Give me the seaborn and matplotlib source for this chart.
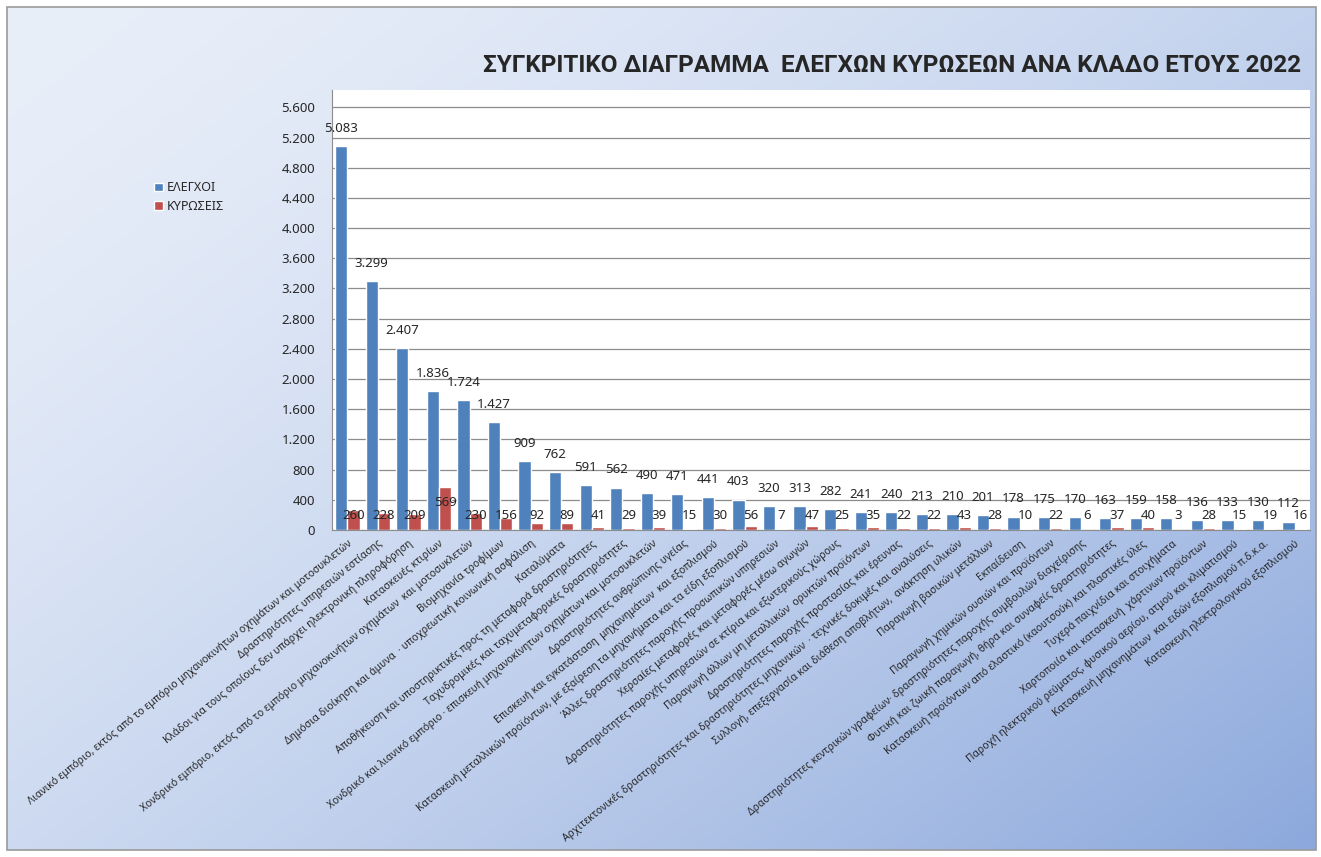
import numpy as np
import pandas as pd
import seaborn as sns
import matplotlib.pyplot as plt
from matplotlib.patches import Rectangle


# Data
categories = [
    "Λιανικό εμπόριο, εκτός από το εμπόριο μηχανοκινήτων οχημάτων και μοτοσυκλετών",
    "Δραστηριότητες υπηρεσιών εστίασης",
    "Κλάδοι για τους οποίους δεν υπάρχει ηλεκτρονική πληροφόρηση",
    "Κατασκευές κτιρίων",
    "Χονδρικό εμπόριο, εκτός από το εμπόριο μηχανοκινήτων οχημάτων  και μοτοσυκλετών",
    "Βιομηχανία τροφίμων",
    "Δημόσια διοίκηση και άμυνα  · υποχρεωτική κοινωνική ασφάλιση",
    "Καταλύματα",
    "Αποθήκευση και υποστηρικτικές προς τη μεταφορά δραστηριότητες",
    "Ταχυδρομικές και ταχυμεταφορικές δραστηριότητες",
    "Χονδρικό και λιανικό εμπόριο · επισκευή μηχανοκίνητων οχημάτων και μοτοσυκλετών",
    "Δραστηριότητες ανθρώπινης υγείας",
    "Επισκευή και εγκατάσταση  μηχανημάτων  και εξοπλισμού",
    "Κατασκευή μεταλλικών προϊόντων, με εξαίρεση τα μηχανήματα και τα είδη εξοπλισμού",
    "Άλλες δραστηριότητες παροχής προσωπικών υπηρεσιών",
    "Χερσαίες μεταφορές και μεταφορές μέσω αγωγών",
    "Δραστηριότητες παροχής υπηρεσιών σε κτίρια και εξωτερικούς χώρους",
    "Παραγωγή άλλων μη μεταλλικών  ορυκτών προϊόντων",
    "Δραστηριότητες παροχής προστασίας και έρευνας",
    "Αρχιτεκτονικές δραστηριότητες και δραστηριότητες μηχανικών  · τεχνικές δοκιμές και αναλύσεις",
    "Συλλογή, επεξεργασία και διάθεση αποβλήτων,  ανάκτηση υλικών",
    "Παραγωγή βασικών μετάλλων",
    "Εκπαίδευση",
    "Παραγωγή χημικών ουσιών και προϊόντων",
    "Δραστηριότητες κεντρικών γραφείων· δραστηριότητες παροχής συμβουλών διαχείρισης",
    "Φυτική και ζωική παραγωγή, θήρα και συναφείς δραστηριότητες",
    "Κατασκευή προϊόντων από ελαστικό (καουτσούκ) και πλαστικές ύλες",
    "Τυχερά παιχνίδια και στοιχήματα",
    "Χαρτοποιία και κατασκευή  χάρτινων προϊόντων",
    "Παροχή ηλεκτρικού ρεύματος, φυσικού αερίου, ατμού και κλιματισμού",
    "Κατασκευή μηχανημάτων  και ειδών εξοπλισμού π.δ.κ.α.",
    "Κατασκευή ηλεκτρολογικού εξοπλισμού",
]

elegxoi = [5083, 3299, 2407, 1836, 1724, 1427, 909, 762, 591, 562, 490, 471, 441, 403,
           320, 313, 282, 241, 240, 213, 210, 201, 178, 175, 170, 163, 159, 158, 136,
           133, 130, 112]
kyroseis = [260, 228, 209, 569, 230, 156, 92, 89, 41, 29, 39, 15, 30, 56,
            7, 47, 25, 35, 22, 22, 43, 28, 10, 22, 6, 37, 40, 3, 28,
            15, 19, 16]

series_names = ["ΕΛΕΓΧΟΙ", "ΚΥΡΩΣΕΙΣ"]
title = "ΣΥΓΚΡΙΤΙΚΟ ΔΙΑΓΡΑΜΜΑ  ΕΛΕΓΧΩΝ ΚΥΡΩΣΕΩΝ ΑΝΑ ΚΛΑΔΟ ΕΤΟΥΣ 2022"
yticks = list(range(0, 5601, 400))

BLUE = "#4F81BD"
RED = "#C0504D"


def fmt(v):
    # greek thousands separator
    return f"{v:,}".replace(",", ".")


df = pd.DataFrame({
    "cat": categories * 2,
    "value": elegxoi + kyroseis,
    "series": [series_names[0]] * len(categories) + [series_names[1]] * len(categories),
})

sns.set_style("white")
plt.rcParams["font.family"] = ["Noto Sans", "DejaVu Sans"]

W, H = 1321, 857
fig = plt.figure(figsize=(W / 100, H / 100), dpi=100)

# gradient background inside the chart border
bg = fig.add_axes([7 / W, 7 / H, 1309 / W, 843 / H], zorder=-10)
gx, gy = np.meshgrid(np.linspace(0, 1, 300), np.linspace(0, 1, 200))
t = np.clip(0.55 * gx + 0.45 * gy, 0, 1)[..., None]
c0 = np.array([233, 239, 249]) / 255
c1 = np.array([140, 168, 220]) / 255
bg.imshow(c0 + (c1 - c0) * t ** 1.5, aspect="auto", interpolation="bilinear")
bg.set_axis_off()
fig.patches.append(Rectangle((7 / W, 7 / H), 1309 / W, 843 / H, transform=fig.transFigure,
                             fill=False, ec="#9a9a9a", lw=1.2))

ax = fig.add_axes([332 / W, 1 - 530 / H, (1310 - 332) / W, (530 - 90) / H])
sns.barplot(data=df, x="cat", y="value", hue="series", palette=[BLUE, RED],
            ax=ax, saturation=1, width=0.8, gap=0)
ax.set_facecolor("white")
ax.set_ylim(0, 5830)
ax.set_yticks(yticks)
ax.set_yticklabels([fmt(v) for v in yticks], fontsize=9.5)
ax.set_xlabel("")
ax.set_ylabel("")
ax.grid(axis="y", color="#8c8c8c", lw=0.9)
ax.set_axisbelow(True)
for s in ["top", "right"]:
    ax.spines[s].set_visible(False)
for s in ["left", "bottom"]:
    ax.spines[s].set_color("#8c8c8c")
ax.tick_params(axis="both", length=0)
ax.tick_params(axis="y", pad=12)
ax.set_xticks(range(len(categories)))
ax.set_xticklabels(categories, rotation=39, ha="right", va="top",
                   rotation_mode="anchor", fontsize=7.4)
ax.tick_params(axis="x", pad=6)

# value labels
blue_bars, red_bars = ax.containers[0], ax.containers[1]
ax.bar_label(blue_bars, labels=[fmt(v) for v in elegxoi], padding=8, fontsize=9.5)
for bar, v in zip(red_bars, kyroseis):
    ax.text(bar.get_x() + bar.get_width() / 2, max(v - 210, 190), fmt(v),
            ha="center", va="center", fontsize=9.5)

handles, labels = ax.get_legend_handles_labels()
if ax.get_legend() is not None:
    ax.get_legend().remove()
fig.legend(handles, labels, loc="upper left", bbox_to_anchor=(143 / W, 1 - 170 / H),
           frameon=False, fontsize=9, handlelength=0.7, handleheight=0.7,
           handletextpad=0.3, labelspacing=0.45)

fig.text(892 / W, 1 - 66 / H, title, ha="center", va="center",
         fontsize=17.5, fontweight="bold", family=["Roboto", "DejaVu Sans"])

fig.savefig("out.png", dpi=100)
